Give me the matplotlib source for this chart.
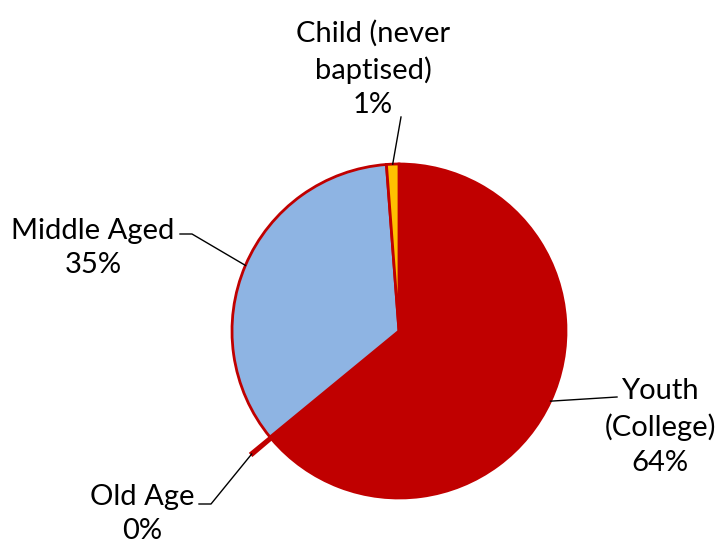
import matplotlib
matplotlib.use('Agg')
import matplotlib.pyplot as plt
import numpy as np

# Data (clockwise from 12 o'clock, as drawn)
labels = ["Youth\n(College)", "Old Age", "Middle Aged", "Child (never\nbaptised)"]
values = [63.8, 0.25, 34.75, 1.2]
colors = ["#C00000", "#C00000", "#8EB4E3", "#FFC000"]
explode = [0, 25, 0, 0]   # pixels

# label text positions (pixels from top-left) and leader elbow
label_pos = [(660, 427), (142, 514), (93, 248), (373, 69)]
elbows = [(617, 397), (211, 504), (192, 234), (401, 117)]
elbow_ends = [(617, 397), (199, 504), (180, 234), (401, 117)]

W, H = 717, 544
fig = plt.figure(figsize=(W / 100, H / 100), dpi=100)
ax = fig.add_axes([0, 0, 1, 1])

cx, cy, R = 399, H - 331, 167
wedges, _ = ax.pie(values, colors=colors, explode=explode, startangle=90,
                   counterclock=False, radius=R, center=(cx, cy),
                   wedgeprops=dict(edgecolor="#C00000", linewidth=2))
ax.set_xlim(0, W)
ax.set_ylim(0, H)
ax.set_aspect('equal')
ax.axis('off')

for i, w in enumerate(wedges):
    mid = np.deg2rad((w.theta1 + w.theta2) / 2)
    r = R + explode[i]
    ox = cx + r * np.cos(mid)
    oy = cy + r * np.sin(mid)
    ex, ey = elbows[i]
    ex2, ey2 = elbow_ends[i]
    ax.plot([ox, ex, ex2], [oy, H - ey, H - ey2], color='black', lw=1)
    pct = "%d%%" % round(values[i])
    tx, ty = label_pos[i]
    ax.text(tx, H - ty, labels[i] + "\n" + pct, ha='center', va='center',
            fontsize=21, family=['Lato', 'DejaVu Sans'], linespacing=1.4)

fig.savefig("out.png", dpi=100)
